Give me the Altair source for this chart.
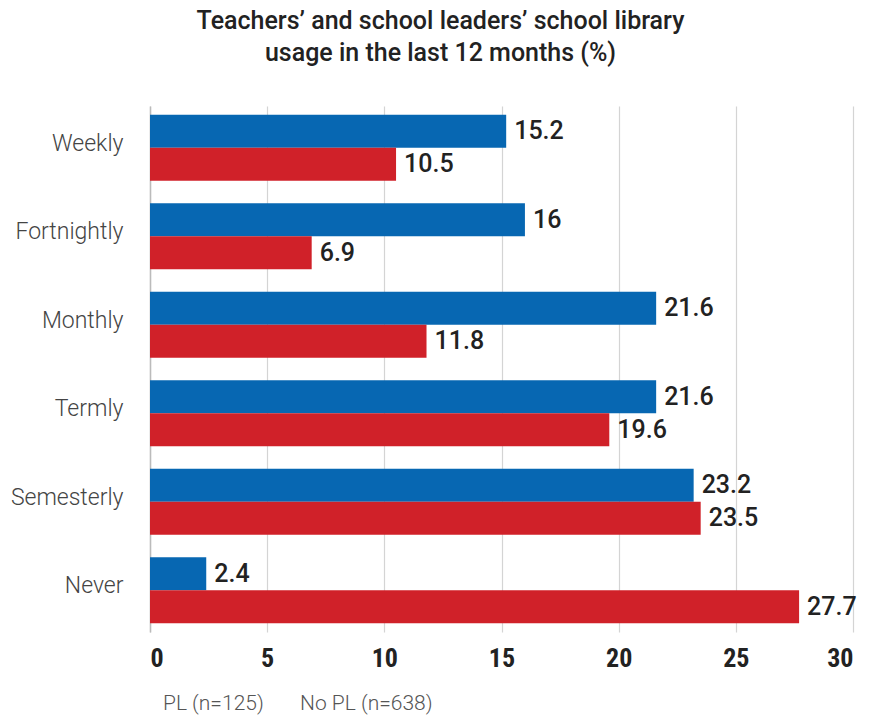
import altair as alt
import pandas as pd

categories = ["Weekly", "Fortnightly", "Monthly", "Termly", "Semesterly", "Never"]
groups = ["PL (n=125)", "No PL (n=638)"]
pl_values = [15.2, 16, 21.6, 21.6, 23.2, 2.4]
nopl_values = [10.5, 6.9, 11.8, 19.6, 23.5, 27.7]
x_ticks = [0, 5, 10, 15, 20, 25, 30]
colors = ["#0767B2", "#D02129"]

rows = []
for c, a, b in zip(categories, pl_values, nopl_values):
    rows.append({"cat": c, "group": groups[0], "value": a, "label": f"{a:g}"})
    rows.append({"cat": c, "group": groups[1], "value": b, "label": f"{b:g}"})
df = pd.DataFrame(rows)

FONT = "Roboto"
NARROW = "Liberation Sans Narrow, Roboto Condensed, Roboto"

y = alt.Y("cat:N", sort=categories, title=None,
          scale=alt.Scale(paddingInner=0.255, paddingOuter=0.1),
          axis=alt.Axis(labelFontSize=23, labelColor="#444444", labelFont=FONT,
                        labelFontWeight=300, labelOffset=-4,
                        labelPadding=27, ticks=False, domain=True,
                        domainColor="#bbbbbb", domainWidth=1.5))
yoff = alt.YOffset("group:N", sort=groups)
x = alt.X("value:Q", title=None,
          scale=alt.Scale(domain=[0, 30], nice=False),
          axis=alt.Axis(values=x_ticks, grid=True, gridColor="#d4d4d4", gridWidth=1.2,
                        domain=False, ticks=False, labelPadding=13,
                        labelFontSize=26, labelFontWeight="bold", labelColor="#222222",
                        labelFont=NARROW))

bars = alt.Chart(df).mark_bar().encode(
    x=x, y=y, yOffset=yoff,
    color=alt.Color("group:N", sort=groups,
                    scale=alt.Scale(domain=groups, range=colors),
                    legend=alt.Legend(orient="none", legendX=-8, legendY=587,
                                      direction="horizontal", title=None,
                                      symbolSize=0, symbolStrokeWidth=0,
                                      symbolOpacity=0, labelOffset=0,
                                      columnPadding=15,
                                      labelFontSize=21, labelFontWeight=300,
                                      labelColor="#555555",
                                      labelFont=FONT)),
)

labels = alt.Chart(df).mark_text(align="left", baseline="middle", dx=8,
                                 fontSize=25, fontWeight=500, color="#222222",
                                 font=FONT).encode(
    x="value:Q", y=alt.Y("cat:N", sort=categories), yOffset=yoff, text="label:N")

chart = alt.layer(bars, labels).properties(
    width=703, height=526,
    autosize=alt.AutoSizeParams(type="none"),
    padding={"left": 150, "top": 106, "right": 30, "bottom": 84},
    title=alt.Title(["Teachers’ and school leaders’ school library",
                     "usage in the last 12 months (%)"],
                    font=FONT, fontSize=25, fontWeight=500, color="#222222",
                    anchor="middle", dx=-61, offset=40, lineHeight=32),
).configure_view(stroke=None)

chart.save("out.html", embed_options={"renderer": "svg", "actions": False})
